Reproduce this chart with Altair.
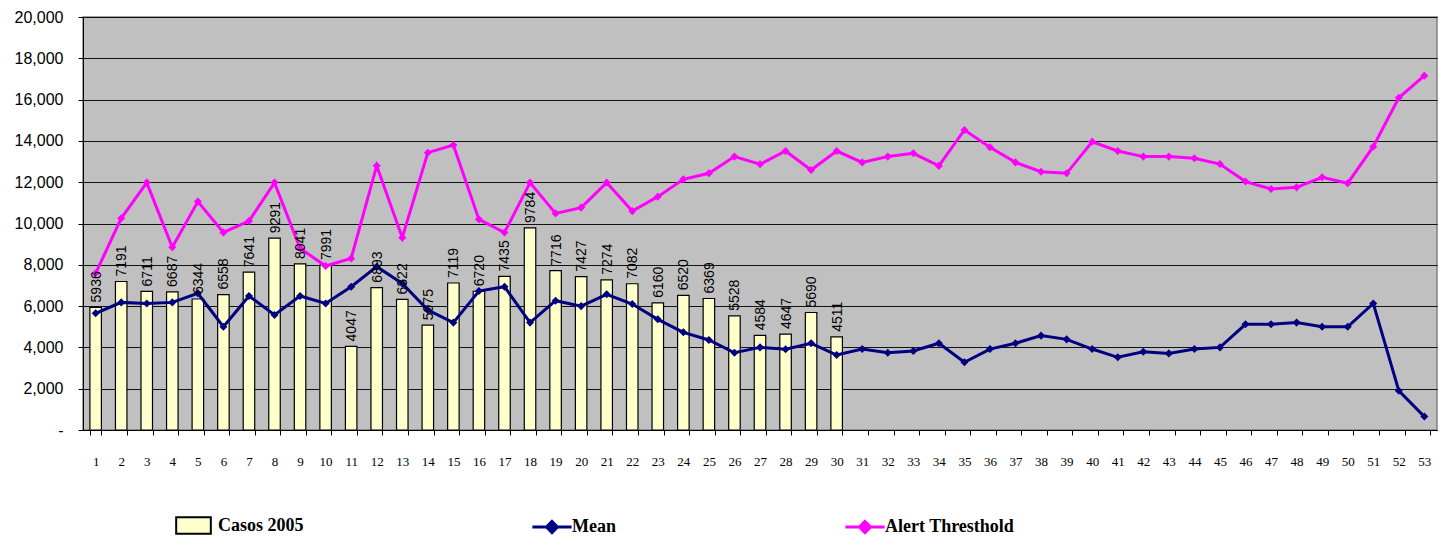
import altair as alt
import pandas as pd

weeks = list(range(1, 54))
casos_2005 = [5936, 7191, 6711, 6687, 6344, 6558, 7641, 9291, 8041, 7991,
              4047, 6893, 6322, 5075, 7119, 6720, 7435, 9784, 7716, 7427,
              7274, 7082, 6160, 6520, 6369, 5528, 4584, 4647, 5690, 4511]
mean = [5650, 6180, 6130, 6180, 6620, 5000, 6490, 5570, 6490, 6130,
        6940, 7910, 7100, 5810, 5200, 6730, 6940, 5200, 6260, 6000,
        6570, 6100, 5360, 4730, 4360, 3740, 4000, 3910, 4200, 3630,
        3920, 3740, 3830, 4200, 3280, 3920, 4200, 4570, 4390, 3920,
        3520, 3790, 3710, 3920, 4000, 5120, 5120, 5200, 5000, 5000,
        6130, 1900, 650]
alert = [7590, 10250, 11980, 8850, 11060, 9570, 10120, 11980, 8800, 7940,
         8310, 12800, 9310, 13430, 13800, 10200, 9560, 11980, 10490, 10770,
         11980, 10600, 11300, 12140, 12430, 13240, 12870, 13510, 12590, 13510,
         12960, 13240, 13400, 12790, 14530, 13690, 12960, 12510, 12430, 13960,
         13510, 13240, 13240, 13160, 12880, 12030, 11670, 11750, 12240, 11950,
         13720, 16090, 17160]

bars_df = pd.DataFrame({"week": weeks[:len(casos_2005)], "value": casos_2005,
                        "series": "Casos 2005"})
mean_df = pd.DataFrame({"week": weeks, "value": mean, "series": "Mean"})
alert_df = pd.DataFrame({"week": weeks, "value": alert, "series": "Alert Thresthold"})

x_enc = alt.X("week:O", title=None,
              scale=alt.Scale(domain=weeks, paddingInner=0.55, paddingOuter=0.27),
              axis=alt.Axis(labelAngle=0, tickBand="extent", tickSize=5,
                            tickColor="black", domainColor="black",
                            labelFont="Liberation Serif", labelFontSize=13,
                            labelColor="black", labelPadding=20))
y_enc = alt.Y("value:Q", title=None,
              scale=alt.Scale(domain=[0, 20000], nice=False),
              axis=alt.Axis(values=list(range(0, 20001, 2000)), tickSize=5,
                            tickColor="black", domainColor="black",
                            labelExpr="datum.value == 0 ? '-' : format(datum.value, ',')",
                            labelFont="Liberation Sans", labelFontSize=16,
                            labelColor="black", labelPadding=15,
                            grid=True, gridColor="black", gridWidth=1, gridOpacity=0.9))

legend_common = dict(orient="none", title=None, direction="horizontal",
                     labelFont="Liberation Serif", labelFontSize=18,
                     labelFontWeight="bold", labelColor="black",
                     labelOffset=6, symbolOpacity=1)

bars = alt.Chart(bars_df).mark_bar(stroke="black", strokeWidth=1.2, opacity=1).encode(
    x=x_enc, y=y_enc,
    color=alt.Color("series:N",
                    scale=alt.Scale(domain=["Casos 2005"], range=["#FFFFCC"]),
                    legend=alt.Legend(legendX=92, legendY=490,
                                      symbolType="M-1,-0.48H1V0.48H-1Z",
                                      symbolSize=1200, symbolStrokeColor="black",
                                      symbolStrokeWidth=2, symbolFillColor="#FFFFCC",
                                      **legend_common)),
)

labels = alt.Chart(bars_df).mark_text(angle=270, align="left", baseline="middle",
                                      dx=5, dy=1, font="Liberation Sans", fontSize=14,
                                      color="black").encode(
    x=alt.X("week:O", scale=alt.Scale(domain=weeks)), y="value:Q", text="value:Q")

diamond_line = "M-1.6,0H1.6M0,-0.45L0.45,0L0,0.45L-0.45,0Z"

mean_line = alt.Chart(mean_df).mark_line(
    strokeWidth=3, point=alt.OverlayMarkDef(shape="diamond", size=65, filled=True,
                                           color="#000080", opacity=1)).encode(
    x=x_enc, y=y_enc,
    color=alt.Color("series:N",
                    scale=alt.Scale(domain=["Mean"], range=["#000080"]),
                    legend=alt.Legend(legendX=455, legendY=496,
                                      symbolType=diamond_line, symbolSize=600,
                                      symbolStrokeColor="#000080",
                                      symbolFillColor="#000080",
                                      symbolStrokeWidth=3, **legend_common)),
)

alert_line = alt.Chart(alert_df).mark_line(
    strokeWidth=3, point=alt.OverlayMarkDef(shape="diamond", size=65, filled=True,
                                           color="#FF00FF", opacity=1)).encode(
    x=x_enc, y=y_enc,
    color=alt.Color("series:N",
                    scale=alt.Scale(domain=["Alert Thresthold"], range=["#FF00FF"]),
                    legend=alt.Legend(legendX=768, legendY=496,
                                      symbolType=diamond_line, symbolSize=600,
                                      symbolStrokeColor="#FF00FF",
                                      symbolFillColor="#FF00FF",
                                      symbolStrokeWidth=3, **legend_common)),
)

chart = alt.layer(bars, mean_line, alert_line, labels).resolve_scale(
    color="independent"
).properties(
    width=1354, height=413,
    autosize=alt.AutoSizeParams(type="none"),
    padding={"left": 75, "top": 9, "right": 5, "bottom": 118},
    background="white",
).configure_view(
    fill="#C0C0C0", stroke="#808080", strokeWidth=1.5
)

chart.save("out.html", embed_options={"renderer": "svg", "actions": False})
